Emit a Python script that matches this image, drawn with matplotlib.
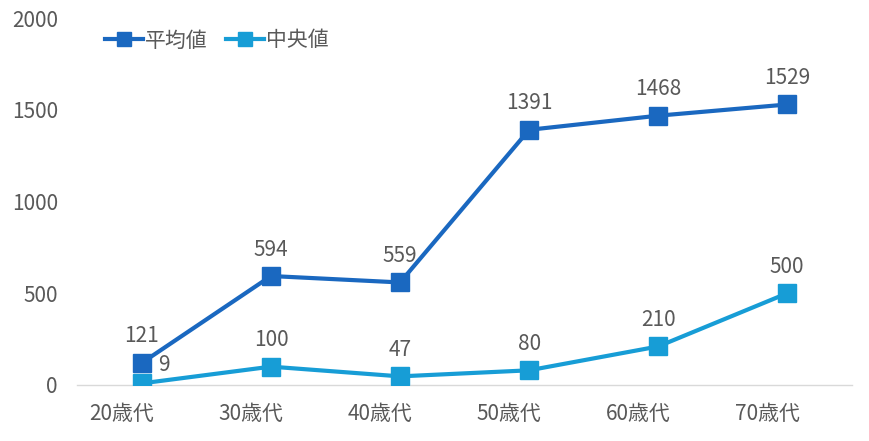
import matplotlib
matplotlib.use("Agg")
import matplotlib.pyplot as plt
import matplotlib.transforms as mtransforms

plt.rcParams['font.family'] = ['Noto Sans CJK JP', 'DejaVu Sans']

categories = ["20歳代", "30歳代", "40歳代", "50歳代", "60歳代", "70歳代"]
mean_vals = [121, 594, 559, 1391, 1468, 1529]
median_vals = [9, 100, 47, 80, 210, 500]
series_names = ["平均値", "中央値"]
yticks = [0, 500, 1000, 1500, 2000]

c_mean = "#1A68C0"
c_med = "#179DD6"
gray = "#595959"
fs = 15

fig = plt.figure(figsize=(8.7, 4.41), dpi=100)
ax = fig.add_axes([0.089, 0.127, 0.89, 0.832])
x = list(range(len(categories)))
ax.plot(x, mean_vals, color=c_mean, lw=3, marker='s', ms=13, label=series_names[0], zorder=3)
ax.plot(x, median_vals, color=c_med, lw=3, marker='s', ms=13, label=series_names[1], zorder=4)

for i, v in enumerate(mean_vals):
    ax.annotate(str(v), (i, v), xytext=(0, 19), textcoords='offset points',
                ha='center', va='center', fontsize=fs, color=gray)
for i, v in enumerate(median_vals):
    if i == 0:
        ax.annotate(str(v), (i, v), xytext=(12, 13), textcoords='offset points',
                    ha='left', va='center', fontsize=fs, color=gray)
    else:
        ax.annotate(str(v), (i, v), xytext=(0, 19), textcoords='offset points',
                    ha='center', va='center', fontsize=fs, color=gray)

ax.set_xlim(-0.5, len(categories) - 0.5)
ax.set_ylim(0, 2000)
ax.set_yticks(yticks)
ax.set_yticklabels([str(t) for t in yticks])
ax.set_xticks(x)
ax.set_xticklabels(categories)
ax.tick_params(axis='both', length=0, labelsize=fs, labelcolor=gray)
ax.tick_params(axis='y', pad=14)
ax.tick_params(axis='x', pad=13)
shift = mtransforms.ScaledTranslation(-20 / 100, 0, fig.dpi_scale_trans)
for lbl in ax.get_xticklabels():
    lbl.set_transform(lbl.get_transform() + shift)
for s in ['top', 'right', 'left']:
    ax.spines[s].set_visible(False)
ax.spines['bottom'].set_color('#D9D9D9')
ax.spines['bottom'].set_linewidth(1)

leg = ax.legend(loc='upper left', ncol=2, frameon=False, fontsize=fs,
                bbox_to_anchor=(0.012, 1.02), handlelength=1.8, columnspacing=0.9,
                handletextpad=0.1, markerscale=0.75)
for t in leg.get_texts():
    t.set_color(gray)

fig.savefig("out.png", dpi=100)
